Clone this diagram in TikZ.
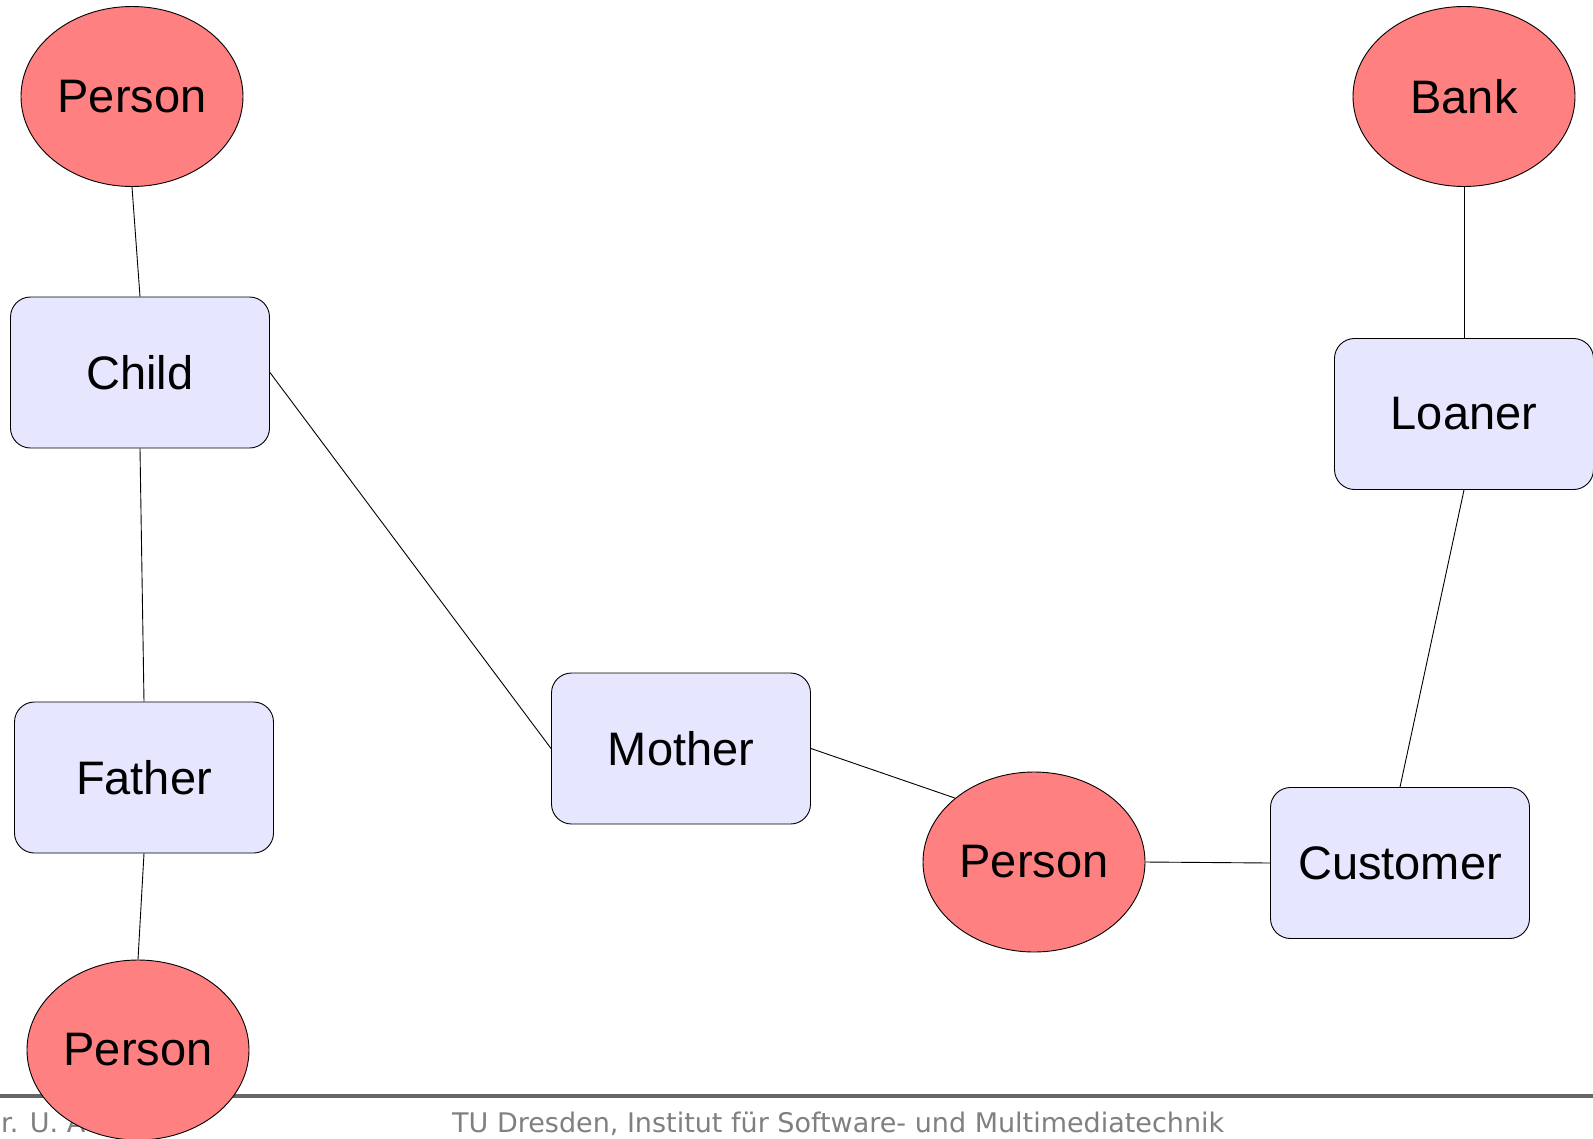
\documentclass[tikz,border=0pt]{standalone}
\usepackage{fontspec}
\setmainfont{Liberation Sans}
\newfontfamily\footfont{DejaVu Sans}
\usetikzlibrary{shapes.geometric}
\definecolor{entred}{HTML}{FF8080}
\definecolor{rolebg}{HTML}{E6E6FF}
\definecolor{footgray}{HTML}{808080}
\definecolor{rulegray}{HTML}{666666}
\begin{document}
\begin{tikzpicture}[x=1pt,y=-1pt,
  ent/.style={ellipse,draw=black,line width=0.9pt,fill=entred,minimum width=222pt,minimum height=180pt,inner sep=0pt,font=\fontsize{47}{56}\selectfont},
  role/.style={rectangle,rounded corners=20pt,draw=black,line width=0.9pt,fill=rolebg,minimum width=259pt,minimum height=151pt,inner sep=0pt,font=\fontsize{47}{56}\selectfont},
  conn/.style={draw=black,line width=0.9pt},
  foot/.style={text=footgray,font=\footfont\fontsize{27}{32}\selectfont,inner sep=0pt,anchor=base west}]
\useasboundingbox (0,0) rectangle (1593,1138);
\fill[white] (0,0) rectangle (1593,1138);
% footer
\draw[rulegray,line width=4pt] (0,1096) -- (1593,1096);
\node[foot] (authortxt) at (1,1132) {r. U. A};
\node[foot] (insttxt) at (452,1132) {TU Dresden, Institut für Software- und Multimediatechnik};
% nodes
\node[ent] (p1) at (132,96.5) {Person};
\node[ent] (bank) at (1464,96.5) {Bank};
\node[ent] (pm) at (1034,862) {Person};
\node[ent] (p3) at (138,1050) {Person};
\node[role] (child) at (140,372.5) {Child};
\node[role] (father) at (144,777.5) {Father};
\node[role] (mother) at (681,748.5) {Mother};
\node[role] (loaner) at (1464,414) {Loaner};
\node[role] (customer) at (1400,863) {Customer};
% connectors
\draw[conn] (p1.south) -- (child.north);
\draw[conn] (child.south) -- (father.north);
\draw[conn] (father.south) -- (p3.north);
\draw[conn] (child.east) -- (mother.west);
\draw[conn] (mother.east) -- (pm.141);
\draw[conn] (pm.east) -- (customer.west);
\draw[conn] (customer.north) -- (loaner.south);
\draw[conn] (loaner.north) -- (bank.south);
\end{tikzpicture}
\end{document}
